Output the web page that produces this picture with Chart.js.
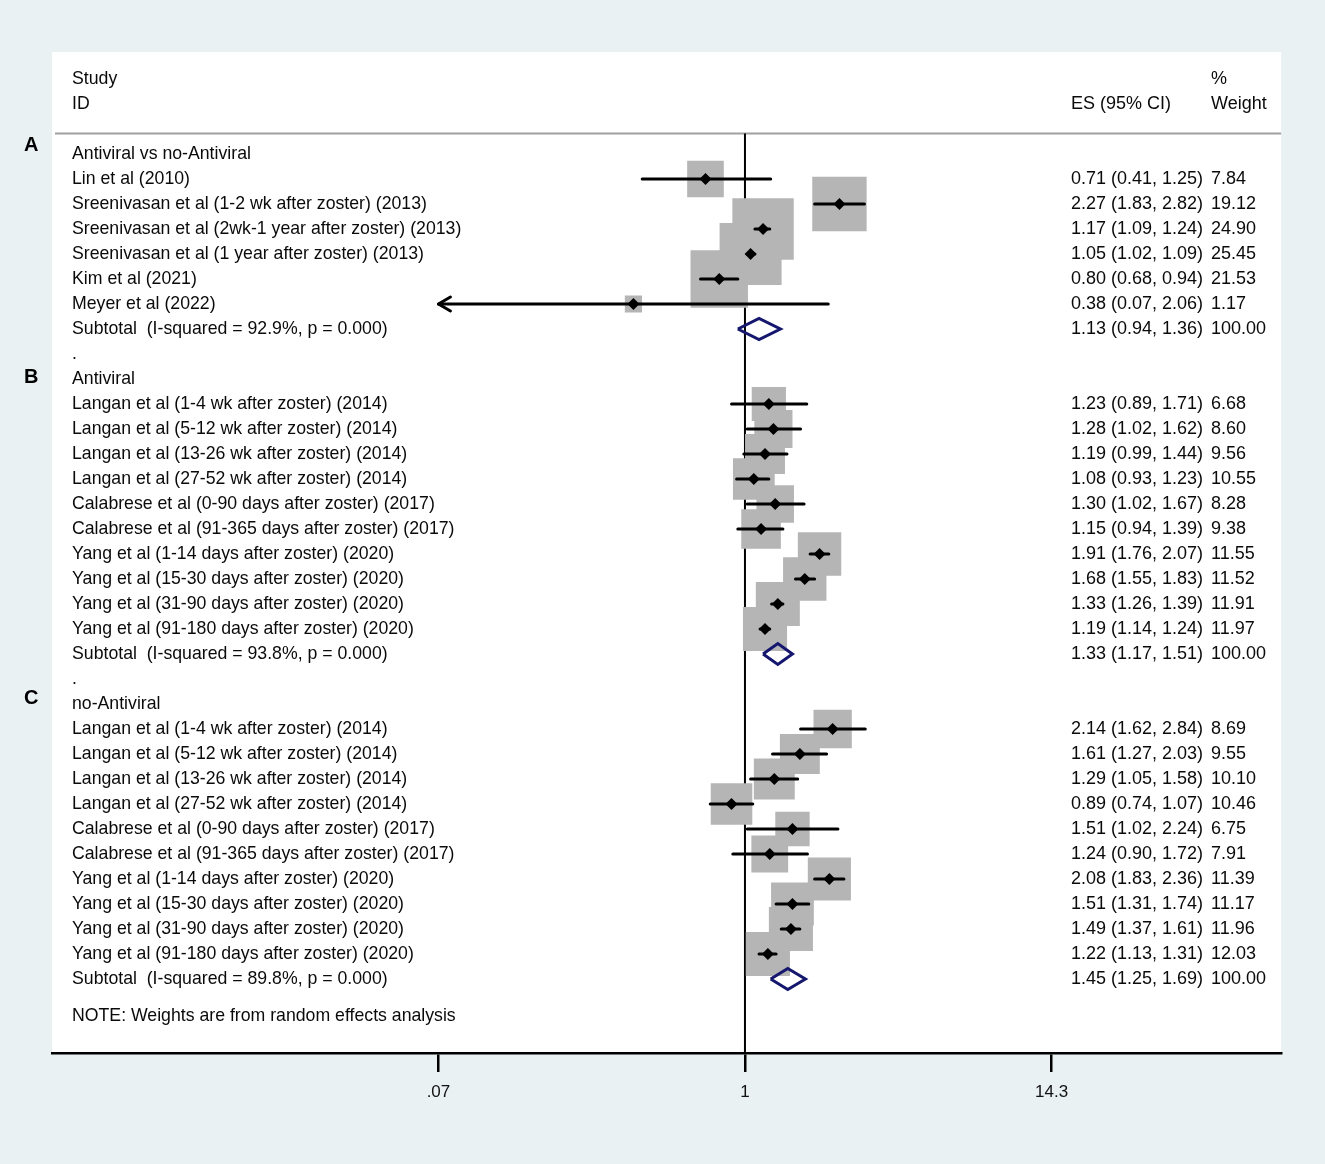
<!DOCTYPE html>
<html><head><meta charset="utf-8">
<script src="https://cdn.jsdelivr.net/npm/chart.js@4.4.1/dist/chart.umd.min.js"></script>
<style>html,body{margin:0;padding:0;background:#eaf1f3;}canvas{display:block;}</style>
</head><body>
<canvas id="c" width="1325" height="1164"></canvas>
<script>
// ---------- DATA ----------
const groupNames = ['Antiviral vs no-Antiviral', 'Antiviral', 'no-Antiviral'];
const groupLetters = ['A', 'B', 'C'];

const studiesA = ['Lin et al (2010)', 'Sreenivasan et al (1-2 wk after zoster) (2013)', 'Sreenivasan et al (2wk-1 year after zoster) (2013)', 'Sreenivasan et al (1 year after zoster) (2013)', 'Kim et al (2021)', 'Meyer et al (2022)'];
const esA = [0.71, 2.27, 1.17, 1.05, 0.80, 0.38];
const loA = [0.41, 1.83, 1.09, 1.02, 0.68, 0.07];
const hiA = [1.25, 2.82, 1.24, 1.09, 0.94, 2.06];
const wtA = [7.84, 19.12, 24.90, 25.45, 21.53, 1.17];

const studiesB = ['Langan et al (1-4 wk after zoster) (2014)', 'Langan et al (5-12 wk after zoster) (2014)', 'Langan et al (13-26 wk after zoster) (2014)', 'Langan et al (27-52 wk after zoster) (2014)', 'Calabrese et al (0-90 days after zoster) (2017)', 'Calabrese et al (91-365 days after zoster) (2017)', 'Yang et al (1-14 days after zoster) (2020)', 'Yang et al (15-30 days after zoster) (2020)', 'Yang et al (31-90 days after zoster) (2020)', 'Yang et al (91-180 days after zoster) (2020)'];
const esB = [1.23, 1.28, 1.19, 1.08, 1.30, 1.15, 1.91, 1.68, 1.33, 1.19];
const loB = [0.89, 1.02, 0.99, 0.93, 1.02, 0.94, 1.76, 1.55, 1.26, 1.14];
const hiB = [1.71, 1.62, 1.44, 1.23, 1.67, 1.39, 2.07, 1.83, 1.39, 1.24];
const wtB = [6.68, 8.60, 9.56, 10.55, 8.28, 9.38, 11.55, 11.52, 11.91, 11.97];

const studiesC = ['Langan et al (1-4 wk after zoster) (2014)', 'Langan et al (5-12 wk after zoster) (2014)', 'Langan et al (13-26 wk after zoster) (2014)', 'Langan et al (27-52 wk after zoster) (2014)', 'Calabrese et al (0-90 days after zoster) (2017)', 'Calabrese et al (91-365 days after zoster) (2017)', 'Yang et al (1-14 days after zoster) (2020)', 'Yang et al (15-30 days after zoster) (2020)', 'Yang et al (31-90 days after zoster) (2020)', 'Yang et al (91-180 days after zoster) (2020)'];
const esC = [2.14, 1.61, 1.29, 0.89, 1.51, 1.24, 2.08, 1.51, 1.49, 1.22];
const loC = [1.62, 1.27, 1.05, 0.74, 1.02, 0.90, 1.83, 1.31, 1.37, 1.13];
const hiC = [2.84, 2.03, 1.58, 1.07, 2.24, 1.72, 2.36, 1.74, 1.61, 1.31];
const wtC = [8.69, 9.55, 10.10, 10.46, 6.75, 7.91, 11.39, 11.17, 11.96, 12.03];

const subtotalLabels = ['Subtotal  (I-squared = 92.9%, p = 0.000)', 'Subtotal  (I-squared = 93.8%, p = 0.000)', 'Subtotal  (I-squared = 89.8%, p = 0.000)'];
const subES = [1.13, 1.33, 1.45];
const subLo = [0.94, 1.17, 1.25];
const subHi = [1.36, 1.51, 1.69];
const subWt = [100.00, 100.00, 100.00];

const tickValues = [0.07, 1, 14.3];
const tickLabels = ['.07', '1', '14.3'];
const headStudy = ['Study', 'ID'];
const headES = 'ES (95% CI)';
const headWeight = ['%', 'Weight'];
const noteText = 'NOTE: Weights are from random effects analysis';

// ---------- LAYOUT CONSTANTS ----------
const FONT = '"Liberation Sans", Arial, sans-serif';
const FS_LEFT = 17.7;
const FS_RIGHT = 18;
const PX_PER_DEC = 265.8;
const X_MIN = Math.pow(10, -694 / PX_PER_DEC);
const X_MAX = Math.pow(10, 537 / PX_PER_DEC);
const Y_MIN = -4.08, Y_MAX = 35.96;
const HEADER_LINE_ROW = -0.82;
const letterOffsets = [-0.36, -0.05, -0.23];
const DIAMOND_HALF = 0.42;

// ---------- BUILD ROWS ----------
const groups = [
  {names: studiesA, es: esA, lo: loA, hi: hiA, wt: wtA},
  {names: studiesB, es: esB, lo: loB, hi: hiB, wt: wtB},
  {names: studiesC, es: esC, lo: loC, hi: hiC, wt: wtC}
];
const textRows = [];
const study = [];
const subs = [];
const letters = [];
let r = 0;
groups.forEach((g, gi) => {
  letters.push({row: r + letterOffsets[gi], text: groupLetters[gi]});
  textRows.push({row: r, left: groupNames[gi]});
  r++;
  g.names.forEach((n, i) => {
    study.push({row: r, es: g.es[i], lo: g.lo[i], hi: g.hi[i], wt: g.wt[i]});
    textRows.push({row: r, left: n,
      es: g.es[i].toFixed(2) + ' (' + g.lo[i].toFixed(2) + ', ' + g.hi[i].toFixed(2) + ')',
      wt: g.wt[i].toFixed(2)});
    r++;
  });
  subs.push({row: r, es: subES[gi], lo: subLo[gi], hi: subHi[gi]});
  textRows.push({row: r, left: subtotalLabels[gi],
    es: subES[gi].toFixed(2) + ' (' + subLo[gi].toFixed(2) + ', ' + subHi[gi].toFixed(2) + ')',
    wt: subWt[gi].toFixed(2)});
  r++;
  if (gi < groups.length - 1) { textRows.push({row: r, left: '.'}); r++; }
});
const noteRow = r + 0.5;

const boxData = study.map(s => ({x: s.es, y: s.row}));
const boxWt = study.map(s => s.wt);
const pointData = study.map(s => ({x: s.es, y: s.row}));
const ciData = [];
study.forEach(s => { ciData.push({x: s.lo, y: s.row}, {x: s.hi, y: s.row}, {x: s.hi, y: null}); });
const diaData = [];
subs.forEach(s => {
  diaData.push({x: s.lo, y: s.row}, {x: s.es, y: s.row - DIAMOND_HALF}, {x: s.hi, y: s.row},
               {x: s.es, y: s.row + DIAMOND_HALF}, {x: s.lo, y: s.row}, {x: s.lo, y: null});
});
const refLine = [{x: 1, y: HEADER_LINE_ROW}, {x: 1, y: Y_MAX}];

// ---------- PLUGIN ----------
const forest = {
  id: 'forest',
  beforeDraw(chart) {
    const {ctx, chartArea: a} = chart;
    ctx.save();
    ctx.fillStyle = '#ffffff';
    ctx.fillRect(a.left, a.top, a.right - a.left, a.bottom - a.top);
    ctx.restore();
  },
  beforeDatasetsDraw(chart) {
    const {ctx, chartArea: a, scales: {y}} = chart;
    const py = y.getPixelForValue(HEADER_LINE_ROW);
    ctx.save();
    ctx.strokeStyle = '#a0a0a0';
    ctx.lineWidth = 2;
    ctx.beginPath(); ctx.moveTo(a.left + 3, py); ctx.lineTo(a.right, py); ctx.stroke();
    ctx.restore();
  },
  afterDatasetsDraw(chart) {
    const {ctx, scales: {x, y}} = chart;
    ctx.save();
    ctx.strokeStyle = '#000'; ctx.lineWidth = 3; ctx.lineCap = 'round'; ctx.lineJoin = 'round';
    study.forEach(s => {
      if (s.lo <= tickValues[0]) {
        const px = x.getPixelForValue(s.lo), py = y.getPixelForValue(s.row);
        ctx.beginPath();
        ctx.moveTo(px + 12, py - 7); ctx.lineTo(px, py); ctx.lineTo(px + 12, py + 7);
        ctx.stroke();
      }
    });
    ctx.restore();
  },
  afterDraw(chart) {
    const {ctx, chartArea: a, scales: {y}} = chart;
    const L = a.left + 20, ESX = 1071, WX = 1211;
    ctx.save();
    ctx.fillStyle = '#0a0a0a';
    ctx.textBaseline = 'middle';
    ctx.textAlign = 'left';
    ctx.font = FS_LEFT + 'px ' + FONT;
    ctx.fillText(headStudy[0], L, y.getPixelForValue(-3));
    ctx.fillText(headStudy[1], L, y.getPixelForValue(-2));
    textRows.forEach(t => ctx.fillText(t.left, L, y.getPixelForValue(t.row)));
    ctx.fillText(noteText, L, y.getPixelForValue(noteRow));
    ctx.font = FS_RIGHT + 'px ' + FONT;
    ctx.fillText(headES, ESX, y.getPixelForValue(-2));
    ctx.fillText(headWeight[0], WX, y.getPixelForValue(-3));
    ctx.fillText(headWeight[1], WX, y.getPixelForValue(-2));
    textRows.forEach(t => {
      const py = y.getPixelForValue(t.row);
      if (t.es) ctx.fillText(t.es, ESX, py);
      if (t.wt) ctx.fillText(t.wt, WX, py);
    });
    ctx.font = 'bold 20px ' + FONT;
    ctx.fillStyle = '#000';
    letters.forEach(l => ctx.fillText(l.text, 24, y.getPixelForValue(l.row)));
    ctx.restore();
  }
};

new Chart(document.getElementById('c'), {
  type: 'scatter',
  data: {
    datasets: [
      {label: 'Reference', data: refLine, showLine: true, borderColor: '#000', borderWidth: 2, pointRadius: 0, order: 6},
      {label: 'Weight', data: boxData, pointStyle: 'rect', backgroundColor: '#b5b5b5', borderWidth: 0,
       pointRadius: c => (5 + 11.3 * Math.sqrt(boxWt[c.dataIndex])) / Math.SQRT2, order: 5},
      {label: 'CI', data: ciData, showLine: true, spanGaps: false, borderColor: '#000', borderWidth: 3, pointRadius: 0, borderCapStyle: 'round', order: 3},
      {label: 'ES', data: pointData, pointStyle: 'rectRot', pointRadius: 6, backgroundColor: '#000', borderWidth: 0, order: 2},
      {label: 'Subtotal', data: diaData, showLine: true, spanGaps: false, borderColor: '#15176e', borderWidth: 3, pointRadius: 0, borderJoinStyle: 'miter', fill: false, order: 1}
    ]
  },
  options: {
    responsive: false, animation: false, devicePixelRatio: 1, events: [],
    layout: {padding: {left: 52, right: 38, top: 52, bottom: 0}},
    plugins: {legend: {display: false}, tooltip: {enabled: false}},
    scales: {
      x: {
        type: 'logarithmic', min: X_MIN, max: X_MAX,
        afterBuildTicks: s => { s.ticks = tickValues.map(v => ({value: v})); },
        afterFit: s => { s.height = 111; },
        ticks: {autoSkip: false, maxRotation: 0, color: '#111', padding: 10,
                font: {family: FONT, size: 17}, callback: (v, i) => tickLabels[i]},
        grid: {drawOnChartArea: false, drawTicks: true, tickLength: 19, color: '#000', lineWidth: 2.5},
        border: {display: true, color: '#000', width: 2.5}
      },
      y: {type: 'linear', display: false, reverse: true, min: Y_MIN, max: Y_MAX}
    }
  },
  plugins: [forest]
});
</script>
</body></html>
